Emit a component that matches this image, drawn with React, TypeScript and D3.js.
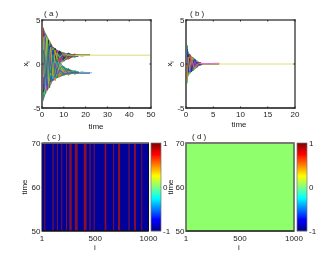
import React from 'react';
import * as d3 from 'd3';

// panel (a)
const timeA = [0, 0.5, 1, 1.5, 2, 2.5, 3, 3.5, 4, 5, 6, 7, 8, 10, 12, 15, 18, 22];
const seriesA = [
  [3.9, 4.1, -2.1, 3.1, -1.4, 2.7, 0.3, 2.4, -0.6, 1.9, 0.4, 1.5, 0.6, 1.2, 0.7, 1.05, 0.95, 1],
  [-4.2, -3.1, 2.8, -2.9, 1.7, -2.6, -0.4, -2.2, 0.6, -1.8, -0.5, -1.5, -0.6, -1.25, -0.75, -1.1, -0.95, -1],
  [1.2, 3.5, -3.3, 1.1, 2.9, -1.8, 2.4, -0.9, 2.1, 0.2, 1.7, 0.5, 1.4, 0.6, 1.15, 0.9, 1.02, 1],
  [-1.1, -3.7, 3.2, -0.8, -3, 1.4, -2.5, 0.7, -2.2, -0.1, -1.6, -0.6, -1.3, -0.55, -1.2, -0.85, -1.03, -1],
  [2.6, -2.4, 1.5, -2.2, 3.1, 0.2, -1.7, 2.5, -1.1, 1.5, 0.1, 1.6, 0.3, 1.3, 0.8, 1.1, 0.98, 1],
  [-2.4, 2.2, -1.3, 2.4, -3.2, -0.3, 1.6, -2.6, 1.2, -1.6, -0.2, -1.4, -0.4, -1.1, -0.9, -1.05, -1.01, -1],
  [0.4, 2.9, 3.4, -1.6, 0.8, 2.8, -1.2, 1.4, 2.2, -0.7, 1.8, 0.9, 1.45, 0.5, 1.25, 0.85, 1.04, 1],
  [-0.6, -2.7, -3.4, 1.9, -0.7, -2.7, 1.1, -1.5, -2.3, 0.8, -1.9, -0.8, -1.5, -0.45, -1.3, -0.8, -1.05, -1],
  [3.2, 0.6, -3.5, 2.2, -2.4, 1.3, 2.6, -1.9, 0.9, 1.8, -0.6, 1.2, 0.8, 1.1, 0.6, 1.08, 0.97, 1],
  [-3.4, -0.5, 3.5, -2.1, 2.5, -1.2, -2.6, 1.8, -0.8, -1.9, 0.5, -1.3, -0.9, -1.2, -0.65, -1.07, -0.96, -1],
  [1.9, -1.2, 2.5, 3.2, -2.7, 0.9, 1.4, 2.6, -1.6, 1.1, 1.6, -0.3, 1.2, 0.9, 1.1, 0.95, 1.01, 1],
  [-1.7, 1.4, -2.6, -3.1, 2.6, -0.8, -1.5, -2.7, 1.5, -1.2, -1.5, 0.2, -1.1, -1, -1.1, -0.92, -1, -1],
  [-0.3, 3.8, 0.7, -2.8, 1.9, 2.2, -2.1, 0.5, 1.7, 0.9, -0.8, 1.4, 0.2, 1.25, 0.55, 1.12, 0.93, 1],
  [0.2, -3.9, -0.6, 2.9, -1.8, -2.3, 2, -0.4, -1.8, -1, 0.7, -1.55, -0.2, -1.3, -0.5, -1.15, -0.92, -1],
  [2.2, 1.7, -0.8, 2.7, 2.3, -2.2, 0.6, 2, -2, 1.6, 0.7, -0.5, 1.3, 0.3, 1.2, 0.78, 1.06, 1],
  [-2, -1.8, 0.9, -2.6, -2.2, 2.1, -0.7, -1.9, 1.9, -1.7, -0.8, 0.4, -1.2, -0.25, -1.15, -0.75, -1.06, -1],
  [-3, 2.4, 1.9, 0.4, -3, 1.7, 2.3, -1.1, 1.3, -0.5, 1.3, 1.1, 0.1, 1, 0.95, 1, 0.99, 1],
  [3, -2.2, -1.8, -0.5, 3, -1.6, -2.2, 1, -1.4, 0.4, -1.3, -1.2, -0.1, -0.95, -1, -0.98, -1, -1],
  [0.9, -3.2, 2.1, 1.6, -0.9, -1.4, 2.7, 0.2, -1, 1.3, 1, 0.2, 1.5, 0.75, 0.9, 1.02, 1, 1],
  [-0.8, 3.1, -2.2, -1.5, 1, 1.3, -2.7, -0.1, 1, -1.4, -1.1, -0.1, -1.45, -0.7, -0.85, -1, -1, -1],
  [-1.6, 0.2, 3, -3, 0.3, 3, -0.9, -1.6, 0.2, 1, -0.2, 1.3, 0.7, 1.15, 1, 0.97, 1, 1],
  [1.5, -0.1, -2.9, 3, -0.2, -2.9, 0.8, 1.7, -0.2, -1.1, 0.1, -1.2, -0.7, -1.05, -1.02, -0.99, -1, -1],
  [2.9, -1.5, -1.1, 0.9, 2.5, -0.5, -2.3, 1.1, 1.9, -1.3, 1.4, 0.7, -0.2, 0.4, 1.05, 0.88, 1.03, 1],
  [-2.8, 1.6, 1, -0.9, -2.5, 0.6, 2.3, -1.2, -1.9, 1.2, -1.4, -0.7, 0.15, -0.35, -1.08, -0.9, -1.02, -1],
];
const envTimeA = [0, 0.5, 1.5, 3, 5, 7, 8, 10, 12, 15, 18, 22];
const envTopA = [3.6, 4.2, 3.6, 2.9, 2, 1.6, 1.5, 1.3, 1.2, 1.1, 1.03, 1];
const envInnerA = [0, 0, 0, 0, 0, 0, 0.05, 0.35, 0.55, 0.8, 0.95, 1];
const envBottomA = [-3.6, -4.3, -3.5, -2.8, -1.9, -1.6, -1.5, -1.3, -1.2, -1.1, -1.03, -1];
const tailTimeA = [15, 50];
const tipTimeA = [17, 23];

// panel (b)
const timeB = [0, 0.2, 0.4, 0.7, 1, 1.3, 1.6, 2, 2.5, 3, 3.5, 4.5, 6];
const seriesB = [
  [3.05, 1.2, 1.3, -0.9, 0.8, -0.7, 0.5, -0.3, 0.15, -0.05, 0.02, 0, 0],
  [-3.05, -1.5, -1.2, 1, -0.8, 0.6, -0.5, 0.35, -0.15, 0.05, -0.02, 0, 0],
  [2.4, -1.3, 0.9, 1.1, -0.6, 0.7, 0.2, -0.4, 0.18, 0.02, 0, 0, 0],
  [-2.6, 1.6, -1, -1.1, 0.7, -0.7, -0.3, 0.4, -0.17, -0.03, 0, 0, 0],
  [1.7, 2.1, -1.3, 0.4, 0.9, -0.2, 0.6, 0.1, -0.12, 0.06, 0.01, 0, 0],
  [-1.8, -2, 1.4, -0.5, -0.9, 0.3, -0.6, -0.15, 0.13, -0.06, 0, 0, 0],
  [0.8, -2.2, 0.4, -0.8, 0.2, 0.75, -0.4, 0.3, 0.05, -0.04, 0, 0, 0],
  [-0.9, 2.1, -0.3, 0.8, -0.3, -0.75, 0.45, -0.3, -0.08, 0.04, 0, 0, 0],
  [2.8, 0.5, 1.1, -0.2, -0.7, 0.4, -0.2, 0.2, 0.1, 0, 0, 0, 0],
  [-2.9, -0.4, -1.1, 0.3, 0.6, -0.4, 0.25, -0.2, -0.1, 0, 0, 0, 0],
  [1.1, -0.9, 0.6, 0.9, 0.4, -0.5, 0.35, -0.25, 0.14, 0.03, 0, 0, 0],
  [-1.3, 0.8, -0.7, -0.9, -0.4, 0.5, -0.35, 0.25, -0.14, -0.03, 0, 0, 0],
  [0.3, 1.7, -0.9, 0.6, -0.9, 0.1, 0.55, 0.05, -0.05, 0, 0, 0, 0],
  [-0.2, -1.7, 0.8, -0.6, 0.85, -0.1, -0.55, -0.05, 0.06, 0, 0, 0, 0],
];
const envTimeB = [0, 0.2, 0.4, 0.7, 1, 1.3, 1.6, 2, 2.5, 3, 3.5];
const envTopB = [3.05, 2.1, 1.4, 1.1, 0.9, 0.75, 0.6, 0.4, 0.18, 0.06, 0.02];
const pinkTimeB = [2.5, 5.5];
const redTimeB = [5, 6.2];
const tailTimeB = [3, 20];

// panels (c) and (d)
const stripeStart = [24, 100, 142, 182, 226, 258, 310, 392, 447, 485, 588, 668, 714, 813, 864, 933];
const stripeEnd = [33, 109, 150, 191, 235, 279, 335, 419, 456, 494, 605, 677, 734, 822, 882, 942];
const jetStops = [-1, -0.75, -0.25, 0.25, 0.75, 1];
const jetColors = ['#00007f', '#0000ff', '#00ffff', '#ffff00', '#ff0000', '#7f0000'];
const colorbarTicks = [-1, 0, 1];

const palette = ['#d01818', '#14a048', '#1430d8', '#18c0c0', '#c838c0', '#c8c030', '#2a2a2a', '#e08018', '#58d058', '#7838c8', '#b0b020', '#0878a0'];
const font = 'Liberation Sans, Arial, sans-serif';
const textColor = '#222';
const fs = 8;

const top1 = 20, bottom1 = 108, top2 = 143, bottom2 = 231;
const leftL = 42, leftR = 186;

const LinePanel = ({ left, xMax, xTicks, xLabelY, labelX, children }: any) => {
  const x = d3.scaleLinear().domain([0, xMax]).range([left, left + 109]);
  const y = d3.scaleLinear().domain([-5, 5]).range([bottom1, top1]);
  return (
    <g>
      {children(x, y)}
      <rect x={left} y={top1} width={109} height={bottom1 - top1} fill="none" stroke="#7a7a7a" strokeWidth={2} />
      <line x1={left} x2={left + 109} y1={bottom1} y2={bottom1} stroke="#222" strokeWidth={1} />
      <line x1={left} x2={left} y1={top1} y2={bottom1} stroke="#555" strokeWidth={1} />
      {xTicks.map((t: number) => (
        <g key={t}>
          <line x1={x(t)} x2={x(t)} y1={bottom1} y2={bottom1 - 1.5} stroke="#222" />
          <line x1={x(t)} x2={x(t)} y1={top1} y2={top1 + 1.5} stroke="#222" />
          <text x={x(t)} y={116.5} textAnchor="middle" fontSize={fs} fontFamily={font} fill={textColor}>{t}</text>
        </g>
      ))}
      {[-5, 0, 5].map((t) => (
        <g key={t}>
          <line x1={left} x2={left + 1.5} y1={y(t)} y2={y(t)} stroke="#222" />
          <line x1={left + 109} x2={left + 107.5} y1={y(t)} y2={y(t)} stroke="#222" />
          <text x={left - 1.5} y={y(t) + 3} textAnchor="end" fontSize={fs} fontFamily={font} fill={textColor}>{t}</text>
        </g>
      ))}
      <text x={labelX} y={xLabelY} textAnchor="middle" fontSize={fs} fontFamily={font} fill={textColor}>time</text>
      <text transform={`translate(${left - 14},${y(0)}) rotate(-90)`} textAnchor="middle" fontSize={fs} fontFamily={font} fill={textColor}>
        x<tspan fontSize={5} dy={1.5}>i</tspan>
      </text>
    </g>
  );
};

const HeatPanel = ({ left, width, barLeft, fill, stripes, frame, timeLabelX, iLabelX }: any) => {
  const x = d3.scaleLinear().domain([1, 1000]).range([left, left + width]);
  const y = d3.scaleLinear().domain([50, 70]).range([bottom2, top2]);
  const bar = d3.scaleLinear().domain([-1, 1]).range([bottom2, top2]);
  const jet = d3.scaleLinear<string>().domain(jetStops).range(jetColors);
  const barSteps = d3.range(bottom2 - top2);
  return (
    <g>
      <rect x={left} y={top2} width={width} height={bottom2 - top2} fill={fill} />
      {stripes && stripeStart.map((s, k) => (
        <rect key={k} x={x(s)} y={top2} width={x(stripeEnd[k]) - x(s)} height={bottom2 - top2} fill="#8c1028" />
      ))}
      <rect x={left} y={top2} width={width} height={bottom2 - top2} fill="none" stroke={frame} strokeWidth={frame === '#111' ? 1 : 1.6} />
      <line x1={left} x2={left + width} y1={top2} y2={top2} stroke="#7a7a7a" strokeWidth={1.4} />
      <line x1={left} x2={left + width} y1={bottom2} y2={bottom2} stroke="#111" strokeWidth={1} />
      {[1, 500, 1000].map((t) => (
        <text key={t} x={x(t)} y={241} textAnchor="middle" fontSize={fs} fontFamily={font} fill={textColor}>{t}</text>
      ))}
      {[50, 60, 70].map((t) => (
        <text key={t} x={left - 1.5} y={y(t) + 3} textAnchor="end" fontSize={fs} fontFamily={font} fill={textColor}>{t}</text>
      ))}
      <text x={iLabelX} y={250} textAnchor="middle" fontSize={fs} fontFamily={font} fill={textColor}>i</text>
      <text transform={`translate(${timeLabelX},${y(60)}) rotate(-90)`} textAnchor="middle" fontSize={fs} fontFamily={font} fill={textColor}>time</text>
      {barSteps.map((d) => (
        <rect key={d} x={barLeft} y={top2 + d} width={10} height={1.2} fill={jet(bar.invert(top2 + d + 0.5))} />
      ))}
      <rect x={barLeft} y={top2} width={10} height={bottom2 - top2} fill="none" stroke="#777" strokeWidth={0.7} />
      {colorbarTicks.map((t) => (
        <text key={t} x={barLeft + 12} y={bar(t) + 3} fontSize={fs} fontFamily={font} fill={textColor}>{t}</text>
      ))}
    </g>
  );
};

export default function App() {
  return (
    <svg width={325} height={260} style={{ position: 'absolute', left: 0, top: 0, background: '#fff' }}>
      <defs>
        <filter id="soft" x="0" y="0" width="100%" height="100%">
          <feGaussianBlur stdDeviation="0.4" />
        </filter>
      </defs>
      <g filter="url(#soft)">
        <LinePanel left={leftL} xMax={50} xTicks={[0, 10, 20, 30, 40, 50]} xLabelY={128.5} labelX={96}>
          {(x: any, y: any) => {
            const path = d3.line<number>().x((_, i) => x(timeA[i])).y((d) => y(d));
            const upper = d3.area<number>().x((_, i) => x(envTimeA[i])).y0((_, i) => y(envInnerA[i])).y1((d) => y(d));
            const lower = d3.area<number>().x((_, i) => x(envTimeA[i])).y0((_, i) => y(-envInnerA[i])).y1((d) => y(d));
            return (
              <g>
                <path d={upper(envTopA) || ''} fill="#5c8a6c" />
                <path d={lower(envBottomA) || ''} fill="#4f7c88" />
                {seriesA.map((s, k) => (
                  <path key={k} d={path(s) || ''} fill="none" stroke={palette[k % palette.length]} strokeWidth={0.9} />
                ))}
                <line x1={x(tailTimeA[0])} x2={x(tailTimeA[1])} y1={y(1)} y2={y(1)} stroke="#dcdc78" strokeWidth={1} />
                <line x1={x(tipTimeA[0])} x2={x(tipTimeA[1])} y1={y(-1)} y2={y(-1)} stroke="#80b0e8" strokeWidth={1} />
              </g>
            );
          }}
        </LinePanel>
        <LinePanel left={leftR} xMax={20} xTicks={[0, 5, 10, 15, 20]} xLabelY={126.5} labelX={239}>
          {(x: any, y: any) => {
            const path = d3.line<number>().x((_, i) => x(timeB[i])).y((d) => y(d));
            const env = d3.area<number>().x((_, i) => x(envTimeB[i])).y0((d) => y(-d)).y1((d) => y(d));
            return (
              <g>
                <path d={env(envTopB) || ''} fill="#3a6a7a" />
                {seriesB.map((s, k) => (
                  <path key={k} d={path(s) || ''} fill="none" stroke={palette[(k * 5 + 2) % palette.length]} strokeWidth={0.9} />
                ))}
                <line x1={x(tailTimeB[0])} x2={x(tailTimeB[1])} y1={y(0)} y2={y(0)} stroke="#e0e070" strokeWidth={1} />
                <line x1={x(pinkTimeB[0])} x2={x(pinkTimeB[1])} y1={y(0) - 0.5} y2={y(0) - 0.5} stroke="#e070d0" strokeWidth={1} />
                <line x1={x(redTimeB[0])} x2={x(redTimeB[1])} y1={y(0) - 0.8} y2={y(0) - 0.8} stroke="#e89090" strokeWidth={0.8} />
              </g>
            );
          }}
        </LinePanel>
        <HeatPanel left={42} width={106.5} barLeft={151} fill="#00009a" stripes frame="#111" timeLabelX={27} iLabelX={95} />
        <HeatPanel left={186} width={108} barLeft={297} fill="#90ff6c" stripes={false} frame="#5a6a55" timeLabelX={173} iLabelX={239} />
        <text x={44} y={15.5} fontSize={fs} fontFamily={font} fill={textColor} xmlSpace="preserve">( a )</text>
        <text x={190} y={15.5} fontSize={fs} fontFamily={font} fill={textColor} xmlSpace="preserve">( b )</text>
        <text x={47} y={139} fontSize={fs} fontFamily={font} fill={textColor} xmlSpace="preserve">( c )</text>
        <text x={192} y={139} fontSize={fs} fontFamily={font} fill={textColor} xmlSpace="preserve">( d )</text>
      </g>
    </svg>
  );
}
